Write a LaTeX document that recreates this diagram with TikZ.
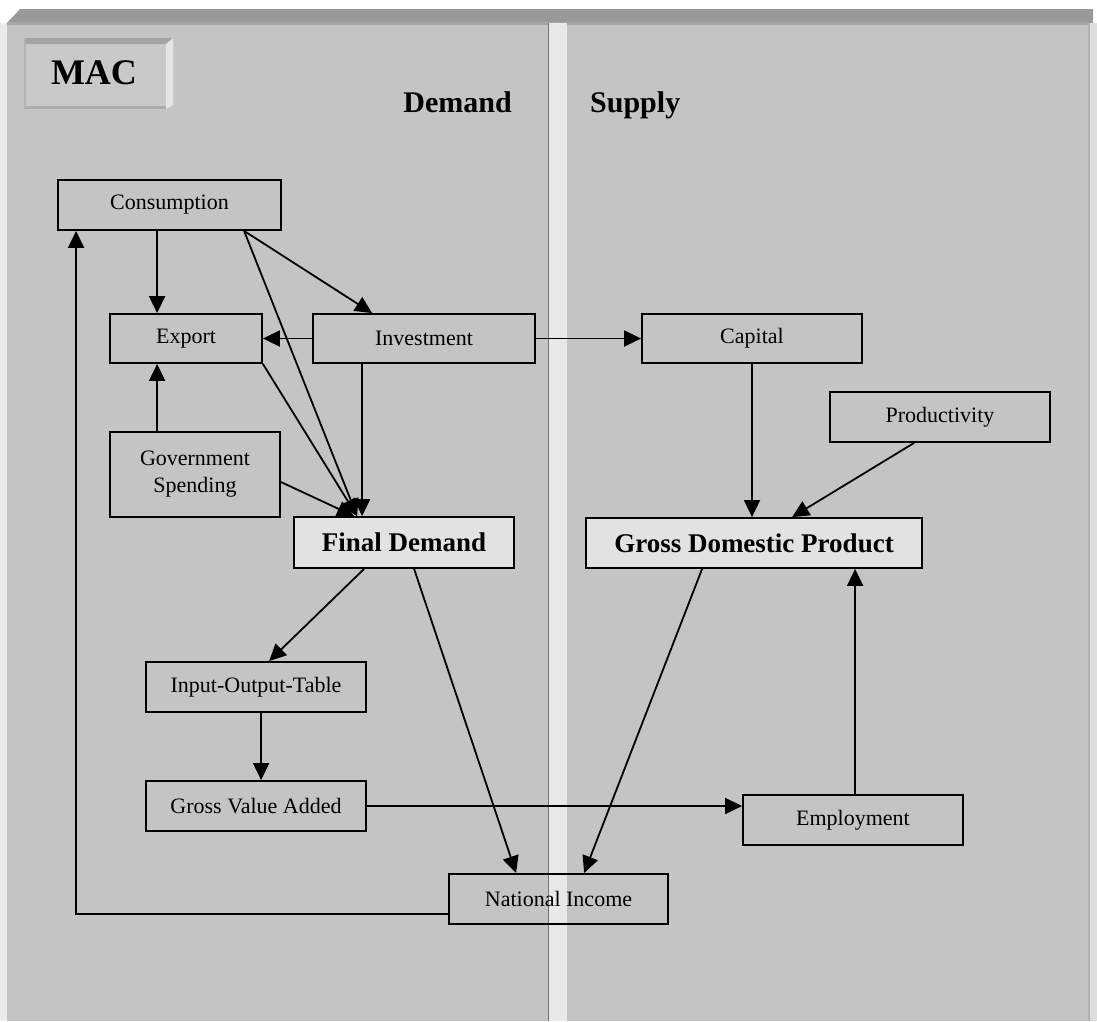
\documentclass[tikz,border=0pt]{standalone}
\usepackage{fontspec}
\setmainfont{Liberation Serif}
\usetikzlibrary{arrows.meta,calc}
\definecolor{bg}{HTML}{C4C4C4}
\definecolor{band}{HTML}{999999}
\definecolor{lite}{HTML}{E8E8E8}
\definecolor{boxlite}{HTML}{E2E2E2}
\tikzset{
  box/.style={draw, line width=1.8pt, inner sep=0pt, align=center,
    font=\fontsize{22}{27}\selectfont},
  bbox/.style={box, fill=boxlite, font=\fontsize{27}{30}\selectfont\bfseries},
  arr/.style={line width=1.8pt, -{Triangle[length=17pt,width=16pt]}},
  head/.style={font=\fontsize{30}{32}\selectfont\bfseries, inner sep=0pt}
}
\begin{document}
\begin{tikzpicture}[x=1pt,y=-1pt]
\useasboundingbox (0,0) rectangle (1097,1021);
% page background
\fill[white] (0,0) rectangle (1097,1021);
\fill[lite!90!white] (0,23) rectangle (7,1021);
\fill[bg] (7,23) rectangle (1089,1021);
\fill[band] (7,23) -- (20,9) -- (1093,9) -- (1093,23) -- cycle;
\fill[black!35] (7,22) rectangle (1089,25);
\fill[black!30] (1088,23) rectangle (1090,1021);
\fill[black!13] (1090,23) rectangle (1097,1021);
% divider
\fill[lite] (548,23) rectangle (567,1021);
\draw[black!55, line width=0.8pt] (548,23) -- (548,1021);
% MAC button
\fill[black!21] (24,38) rectangle (166,109);
\fill[black!36] (24,38) -- (173,38) -- (166,44) -- (24,44) -- cycle;
\fill[black!10] (166,44) -- (173,38) -- (173,105) -- (166,109) -- cycle;
\fill[black!32] (24,106) rectangle (166,109);
\fill[black!30] (24,38) rectangle (26,109);
\node[font=\fontsize{36}{38}\selectfont\bfseries, inner sep=0pt, anchor=base] (mac) at (94,84) {MAC};
% headings
\node[head, anchor=base east] (dem) at (512,112) {Demand};
\node[head, anchor=base west] (sup) at (590,112) {Supply};
% boxes
\node[box, minimum width=223pt, minimum height=50pt] (cons) at (169.5,205) {Consumption};
\node[box, minimum width=152pt, minimum height=49pt] (exp) at (186,338.5) {Export};
\node[box, minimum width=222pt, minimum height=49pt] (inv) at (424,338.5) {Investment};
\node[box, minimum width=220pt, minimum height=49pt] (cap) at (752,338.5) {Capital};
\node[box, minimum width=220pt, minimum height=50pt] (prod) at (940,417) {Productivity};
\node[box, minimum width=170pt, minimum height=85pt] (gov) at (195,474.5) {Government\\Spending};
\node[bbox, minimum width=220pt, minimum height=51pt] (fd) at (404,542.5) {Final Demand};
\node[bbox, minimum width=336pt, minimum height=50pt] (gdp) at (754,543) {Gross Domestic Product};
\node[box, minimum width=220pt, minimum height=50pt] (iot) at (256,687) {Input-Output-Table};
\node[box, minimum width=220pt, minimum height=50pt] (gva) at (256,806) {Gross Value Added};
\node[box, minimum width=220pt, minimum height=50pt] (emp) at (853,820) {Employment};
\node[box, minimum width=219pt, minimum height=50pt] (ni) at (558.5,899) {National Income};
% connectors
\draw[arr] ([xshift=100pt]cons.south west) -- ([xshift=48pt]exp.north west);
\draw[arr] ([xshift=187pt]cons.south west) -- ([xshift=60pt]inv.north west);
\draw[arr] ([xshift=187pt]cons.south west) -- ([xshift=64pt]fd.north west);
\draw[arr] (inv.west) -- (exp.east);
\draw[arr] (inv.east) -- (cap.west);
\draw[arr] (exp.south east) -- ([xshift=64pt]fd.north west);
\draw[arr] ([xshift=50pt]inv.south west) -- ([xshift=69pt]fd.north west);
\draw[arr] ([xshift=48pt]gov.north west) -- ([xshift=48pt]exp.south west);
\draw[arr] ([yshift=-7.5pt]gov.east) -- ([xshift=61pt]fd.north west);
\draw[arr] (cap.south) -- (cap.south |- gdp.north);
\draw[arr] ([xshift=85pt]prod.south west) -- ([xshift=207pt]gdp.north west);
\draw[arr] ([xshift=71pt]fd.south west) -- ([xshift=124pt]iot.north west);
\draw[arr] ([xshift=121pt]fd.south west) -- ([xshift=68pt]ni.north west);
\draw[arr] ([xshift=117pt]gdp.south west) -- ([xshift=136pt]ni.north west);
\draw[arr] ([xshift=116pt]iot.south west) -- ([xshift=116pt]gva.north west);
\draw[arr] (gva.east) -- (gva.east -| emp.west);
\coordinate (empup) at ([xshift=113pt]emp.north west);
\draw[arr] (empup) -- (empup |- gdp.south);
\draw[arr] ([yshift=-15pt]ni.west) -| ([xshift=19pt]cons.south west);
\end{tikzpicture}
\end{document}
